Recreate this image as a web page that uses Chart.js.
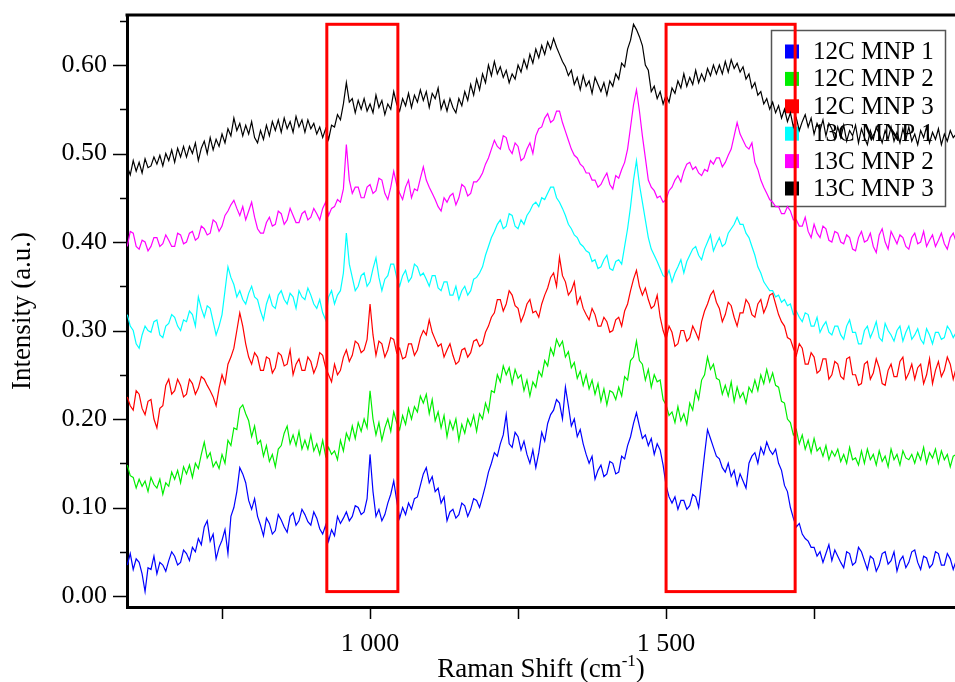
<!DOCTYPE html>
<html>
<head>
<meta charset="utf-8">
<script src="https://cdn.jsdelivr.net/npm/chart.js@4.4.0/dist/chart.umd.min.js"></script>
<style>
  html, body { margin: 0; padding: 0; background: #fff; }
  #wrap { width: 955px; height: 682px; position: relative; }
</style>
</head>
<body>
<div id="wrap"><canvas id="chart"></canvas></div>
<script>
// decalages Raman (cm-1), un point tous les 5 cm-1
const shifts = [
  590, 595, 600, 605, 610, 615, 620, 625, 630, 635, 640, 645, 650, 655, 660, 665, 670, 675, 680, 685,
  690, 695, 700, 705, 710, 715, 720, 725, 730, 735, 740, 745, 750, 755, 760, 765, 770, 775, 780, 785,
  790, 795, 800, 805, 810, 815, 820, 825, 830, 835, 840, 845, 850, 855, 860, 865, 870, 875, 880, 885,
  890, 895, 900, 905, 910, 915, 920, 925, 930, 935, 940, 945, 950, 955, 960, 965, 970, 975, 980, 985,
  990, 995, 1000, 1005, 1010, 1015, 1020, 1025, 1030, 1035, 1040, 1045, 1050, 1055, 1060, 1065, 1070, 1075, 1080, 1085,
  1090, 1095, 1100, 1105, 1110, 1115, 1120, 1125, 1130, 1135, 1140, 1145, 1150, 1155, 1160, 1165, 1170, 1175, 1180, 1185,
  1190, 1195, 1200, 1205, 1210, 1215, 1220, 1225, 1230, 1235, 1240, 1245, 1250, 1255, 1260, 1265, 1270, 1275, 1280, 1285,
  1290, 1295, 1300, 1305, 1310, 1315, 1320, 1325, 1330, 1335, 1340, 1345, 1350, 1355, 1360, 1365, 1370, 1375, 1380, 1385,
  1390, 1395, 1400, 1405, 1410, 1415, 1420, 1425, 1430, 1435, 1440, 1445, 1450, 1455, 1460, 1465, 1470, 1475, 1480, 1485,
  1490, 1495, 1500, 1505, 1510, 1515, 1520, 1525, 1530, 1535, 1540, 1545, 1550, 1555, 1560, 1565, 1570, 1575, 1580, 1585,
  1590, 1595, 1600, 1605, 1610, 1615, 1620, 1625, 1630, 1635, 1640, 1645, 1650, 1655, 1660, 1665, 1670, 1675, 1680, 1685,
  1690, 1695, 1700, 1705, 1710, 1715, 1720, 1725, 1730, 1735, 1740, 1745, 1750, 1755, 1760, 1765, 1770, 1775, 1780, 1785,
  1790, 1795, 1800, 1805, 1810, 1815, 1820, 1825, 1830, 1835, 1840, 1845, 1850, 1855, 1860, 1865, 1870, 1875, 1880, 1885,
  1890, 1895, 1900, 1905, 1910, 1915, 1920, 1925, 1930, 1935, 1940, 1945, 1950, 1955, 1960, 1965, 1970, 1975, 1980, 1985,
  1990
];

// intensites (spectres decales)
const mnp12c1 = [
  0.035, 0.048, 0.030, 0.042, 0.038, 0.025, 0.005, 0.032, 0.030, 0.045, 0.025, 0.038, 0.035, 0.028, 0.040, 0.050, 0.045, 0.035, 0.038, 0.052,
  0.048, 0.040, 0.055, 0.050, 0.065, 0.058, 0.078, 0.085, 0.062, 0.070, 0.042, 0.055, 0.063, 0.075, 0.048, 0.090, 0.100, 0.118, 0.145, 0.138,
  0.128, 0.108, 0.098, 0.110, 0.090, 0.080, 0.068, 0.088, 0.082, 0.070, 0.074, 0.092, 0.086, 0.078, 0.072, 0.090, 0.094, 0.080, 0.085, 0.098,
  0.092, 0.084, 0.080, 0.095, 0.088, 0.076, 0.070, 0.080, 0.062, 0.075, 0.068, 0.090, 0.082, 0.088, 0.095, 0.085, 0.090, 0.102, 0.100, 0.092,
  0.095, 0.110, 0.160, 0.118, 0.090, 0.098, 0.085, 0.092, 0.105, 0.115, 0.130, 0.108, 0.088, 0.100, 0.092, 0.105, 0.098, 0.110, 0.112, 0.125,
  0.138, 0.145, 0.128, 0.135, 0.118, 0.122, 0.105, 0.112, 0.085, 0.095, 0.098, 0.088, 0.092, 0.105, 0.102, 0.090, 0.098, 0.110, 0.108, 0.100,
  0.112, 0.125, 0.140, 0.150, 0.162, 0.158, 0.172, 0.182, 0.205, 0.172, 0.168, 0.185, 0.180, 0.165, 0.175, 0.160, 0.150, 0.165, 0.145, 0.162,
  0.185, 0.175, 0.195, 0.205, 0.210, 0.222, 0.218, 0.200, 0.236, 0.215, 0.192, 0.200, 0.180, 0.188, 0.172, 0.160, 0.150, 0.158, 0.132, 0.142,
  0.148, 0.135, 0.138, 0.152, 0.150, 0.138, 0.140, 0.158, 0.155, 0.170, 0.180, 0.195, 0.207, 0.192, 0.178, 0.182, 0.170, 0.178, 0.160, 0.172,
  0.165, 0.148, 0.125, 0.112, 0.105, 0.112, 0.098, 0.108, 0.108, 0.098, 0.102, 0.115, 0.112, 0.100, 0.130, 0.160, 0.188, 0.178, 0.168, 0.158,
  0.155, 0.145, 0.140, 0.150, 0.135, 0.142, 0.125, 0.138, 0.130, 0.122, 0.150, 0.158, 0.162, 0.150, 0.168, 0.160, 0.174, 0.165, 0.160, 0.166,
  0.150, 0.142, 0.125, 0.118, 0.100, 0.088, 0.078, 0.082, 0.070, 0.065, 0.062, 0.055, 0.055, 0.045, 0.050, 0.038, 0.048, 0.058, 0.040, 0.052,
  0.045, 0.038, 0.032, 0.050, 0.048, 0.035, 0.038, 0.055, 0.050, 0.040, 0.030, 0.045, 0.042, 0.028, 0.035, 0.048, 0.050, 0.036, 0.040, 0.050,
  0.028, 0.040, 0.045, 0.032, 0.038, 0.050, 0.052, 0.038, 0.030, 0.045, 0.043, 0.032, 0.036, 0.050, 0.048, 0.035, 0.035, 0.048, 0.042, 0.030,
  0.040
];
const mnp12c2 = [
  0.148, 0.136, 0.134, 0.122, 0.132, 0.124, 0.130, 0.118, 0.134, 0.126, 0.122, 0.132, 0.115, 0.128, 0.124, 0.140, 0.132, 0.142, 0.128, 0.146,
  0.138, 0.148, 0.134, 0.150, 0.144, 0.160, 0.174, 0.156, 0.162, 0.146, 0.152, 0.144, 0.160, 0.150, 0.176, 0.170, 0.190, 0.188, 0.212, 0.216,
  0.206, 0.198, 0.180, 0.192, 0.172, 0.176, 0.158, 0.170, 0.152, 0.160, 0.146, 0.166, 0.170, 0.184, 0.192, 0.172, 0.182, 0.170, 0.186, 0.166,
  0.176, 0.166, 0.182, 0.164, 0.172, 0.160, 0.176, 0.158, 0.168, 0.160, 0.164, 0.154, 0.176, 0.164, 0.184, 0.176, 0.192, 0.178, 0.196, 0.186,
  0.200, 0.190, 0.232, 0.200, 0.182, 0.196, 0.176, 0.190, 0.200, 0.186, 0.208, 0.196, 0.188, 0.204, 0.194, 0.212, 0.200, 0.214, 0.208, 0.226,
  0.218, 0.228, 0.206, 0.222, 0.198, 0.208, 0.190, 0.204, 0.180, 0.198, 0.188, 0.200, 0.176, 0.194, 0.184, 0.200, 0.192, 0.204, 0.186, 0.206,
  0.200, 0.218, 0.208, 0.232, 0.230, 0.250, 0.242, 0.260, 0.250, 0.258, 0.240, 0.256, 0.246, 0.250, 0.232, 0.244, 0.226, 0.242, 0.236, 0.254,
  0.248, 0.266, 0.260, 0.280, 0.272, 0.290, 0.282, 0.288, 0.270, 0.276, 0.258, 0.264, 0.246, 0.254, 0.238, 0.250, 0.234, 0.244, 0.228, 0.240,
  0.220, 0.234, 0.216, 0.232, 0.230, 0.222, 0.236, 0.226, 0.248, 0.244, 0.266, 0.270, 0.288, 0.266, 0.262, 0.244, 0.256, 0.236, 0.250, 0.242,
  0.244, 0.222, 0.216, 0.204, 0.208, 0.196, 0.214, 0.198, 0.206, 0.194, 0.218, 0.210, 0.232, 0.222, 0.244, 0.250, 0.270, 0.256, 0.262, 0.246,
  0.244, 0.228, 0.238, 0.226, 0.242, 0.220, 0.236, 0.224, 0.230, 0.218, 0.236, 0.230, 0.244, 0.232, 0.250, 0.240, 0.256, 0.242, 0.252, 0.238,
  0.236, 0.220, 0.218, 0.200, 0.196, 0.182, 0.188, 0.172, 0.182, 0.166, 0.176, 0.162, 0.178, 0.164, 0.168, 0.158, 0.170, 0.154, 0.164, 0.158,
  0.166, 0.152, 0.160, 0.150, 0.168, 0.154, 0.156, 0.148, 0.164, 0.150, 0.166, 0.154, 0.160, 0.148, 0.164, 0.152, 0.158, 0.146, 0.166, 0.154,
  0.160, 0.148, 0.164, 0.156, 0.154, 0.160, 0.150, 0.162, 0.154, 0.168, 0.150, 0.162, 0.156, 0.166, 0.150, 0.164, 0.154, 0.160, 0.146, 0.158,
  0.160
];
const mnp12c3 = [
  0.225, 0.215, 0.210, 0.232, 0.228, 0.212, 0.205, 0.220, 0.222, 0.200, 0.190, 0.212, 0.215, 0.238, 0.245, 0.228, 0.232, 0.245, 0.238, 0.225,
  0.228, 0.245, 0.240, 0.228, 0.235, 0.248, 0.245, 0.238, 0.232, 0.225, 0.215, 0.235, 0.250, 0.240, 0.262, 0.270, 0.280, 0.300, 0.320, 0.305,
  0.285, 0.270, 0.262, 0.275, 0.270, 0.255, 0.255, 0.270, 0.268, 0.252, 0.258, 0.275, 0.272, 0.260, 0.262, 0.278, 0.250, 0.262, 0.268, 0.255,
  0.255, 0.270, 0.265, 0.252, 0.260, 0.275, 0.272, 0.258, 0.250, 0.242, 0.262, 0.250, 0.255, 0.270, 0.278, 0.265, 0.272, 0.288, 0.285, 0.275,
  0.278, 0.290, 0.330, 0.295, 0.272, 0.288, 0.285, 0.270, 0.278, 0.292, 0.290, 0.275, 0.280, 0.268, 0.270, 0.285, 0.285, 0.272, 0.278, 0.292,
  0.300, 0.295, 0.312, 0.298, 0.290, 0.282, 0.285, 0.270, 0.278, 0.285, 0.272, 0.262, 0.265, 0.278, 0.280, 0.270, 0.275, 0.288, 0.290, 0.282,
  0.285, 0.298, 0.305, 0.315, 0.320, 0.335, 0.335, 0.322, 0.330, 0.345, 0.340, 0.328, 0.325, 0.310, 0.318, 0.330, 0.335, 0.320, 0.322, 0.315,
  0.330, 0.340, 0.348, 0.360, 0.365, 0.350, 0.383, 0.362, 0.355, 0.340, 0.345, 0.355, 0.330, 0.338, 0.325, 0.318, 0.312, 0.325, 0.318, 0.305,
  0.305, 0.315, 0.310, 0.298, 0.300, 0.312, 0.315, 0.305, 0.322, 0.330, 0.345, 0.358, 0.368, 0.350, 0.340, 0.348, 0.335, 0.325, 0.328, 0.340,
  0.315, 0.300, 0.290, 0.305, 0.298, 0.282, 0.285, 0.300, 0.300, 0.288, 0.292, 0.305, 0.298, 0.290, 0.310, 0.322, 0.330, 0.340, 0.345, 0.332,
  0.325, 0.310, 0.318, 0.332, 0.328, 0.315, 0.305, 0.320, 0.320, 0.335, 0.330, 0.318, 0.315, 0.330, 0.335, 0.320, 0.328, 0.340, 0.342, 0.330,
  0.318, 0.310, 0.305, 0.292, 0.290, 0.280, 0.272, 0.285, 0.280, 0.262, 0.262, 0.275, 0.270, 0.252, 0.255, 0.268, 0.268, 0.245, 0.250, 0.265,
  0.262, 0.248, 0.245, 0.268, 0.270, 0.250, 0.250, 0.238, 0.240, 0.262, 0.265, 0.245, 0.252, 0.268, 0.258, 0.240, 0.238, 0.255, 0.262, 0.248,
  0.248, 0.265, 0.270, 0.245, 0.252, 0.262, 0.245, 0.258, 0.262, 0.240, 0.250, 0.268, 0.240, 0.255, 0.265, 0.248, 0.255, 0.270, 0.262, 0.245,
  0.258
];
const mnp13c1 = [
  0.318, 0.305, 0.300, 0.285, 0.280, 0.295, 0.305, 0.300, 0.298, 0.310, 0.312, 0.295, 0.292, 0.305, 0.308, 0.318, 0.315, 0.305, 0.300, 0.312,
  0.310, 0.322, 0.318, 0.305, 0.338, 0.325, 0.315, 0.328, 0.325, 0.310, 0.295, 0.305, 0.318, 0.345, 0.372, 0.360, 0.352, 0.338, 0.345, 0.335,
  0.330, 0.342, 0.350, 0.338, 0.335, 0.322, 0.312, 0.330, 0.340, 0.328, 0.325, 0.340, 0.345, 0.335, 0.330, 0.342, 0.338, 0.325, 0.345, 0.338,
  0.335, 0.348, 0.340, 0.330, 0.325, 0.335, 0.320, 0.312, 0.338, 0.345, 0.330, 0.340, 0.345, 0.365, 0.410, 0.375, 0.360, 0.345, 0.350, 0.362,
  0.365, 0.350, 0.355, 0.370, 0.382, 0.360, 0.345, 0.358, 0.362, 0.375, 0.375, 0.360, 0.350, 0.362, 0.368, 0.355, 0.360, 0.375, 0.372, 0.362,
  0.365, 0.358, 0.350, 0.362, 0.362, 0.348, 0.345, 0.355, 0.355, 0.340, 0.340, 0.350, 0.335, 0.345, 0.350, 0.340, 0.345, 0.358, 0.360, 0.365,
  0.372, 0.385, 0.395, 0.405, 0.412, 0.420, 0.425, 0.415, 0.418, 0.432, 0.430, 0.418, 0.415, 0.425, 0.420, 0.430, 0.435, 0.442, 0.445, 0.440,
  0.450, 0.448, 0.455, 0.462, 0.462, 0.450, 0.445, 0.438, 0.430, 0.420, 0.415, 0.408, 0.405, 0.398, 0.395, 0.390, 0.388, 0.378, 0.380, 0.370,
  0.372, 0.380, 0.385, 0.370, 0.368, 0.378, 0.380, 0.375, 0.395, 0.415, 0.440, 0.470, 0.492, 0.465, 0.445, 0.425, 0.405, 0.392, 0.385, 0.378,
  0.370, 0.362, 0.360, 0.368, 0.355, 0.365, 0.372, 0.380, 0.365, 0.378, 0.385, 0.392, 0.395, 0.385, 0.380, 0.392, 0.400, 0.408, 0.390, 0.398,
  0.405, 0.395, 0.398, 0.410, 0.415, 0.420, 0.428, 0.420, 0.420, 0.410, 0.405, 0.395, 0.385, 0.372, 0.365, 0.355, 0.350, 0.345, 0.345, 0.338,
  0.340, 0.332, 0.335, 0.328, 0.330, 0.318, 0.322, 0.315, 0.310, 0.320, 0.318, 0.305, 0.305, 0.315, 0.298, 0.305, 0.310, 0.298, 0.295, 0.305,
  0.305, 0.295, 0.290, 0.305, 0.312, 0.298, 0.298, 0.285, 0.285, 0.300, 0.305, 0.292, 0.300, 0.310, 0.292, 0.288, 0.308, 0.300, 0.295, 0.288,
  0.300, 0.305, 0.288, 0.298, 0.305, 0.290, 0.295, 0.302, 0.290, 0.285, 0.302, 0.295, 0.285, 0.298, 0.298, 0.290, 0.292, 0.305, 0.300, 0.292,
  0.298
];
const mnp13c2 = [
  0.395, 0.412, 0.410, 0.395, 0.392, 0.402, 0.400, 0.390, 0.395, 0.405, 0.405, 0.395, 0.398, 0.408, 0.402, 0.395, 0.395, 0.410, 0.408, 0.398,
  0.400, 0.410, 0.412, 0.402, 0.405, 0.418, 0.415, 0.408, 0.410, 0.425, 0.422, 0.412, 0.418, 0.430, 0.435, 0.442, 0.447, 0.438, 0.430, 0.440,
  0.425, 0.435, 0.445, 0.428, 0.415, 0.410, 0.410, 0.422, 0.428, 0.418, 0.420, 0.435, 0.432, 0.420, 0.425, 0.438, 0.430, 0.422, 0.422, 0.432,
  0.435, 0.425, 0.428, 0.438, 0.432, 0.425, 0.438, 0.445, 0.430, 0.438, 0.440, 0.448, 0.445, 0.460, 0.510, 0.470, 0.455, 0.462, 0.462, 0.450,
  0.450, 0.462, 0.465, 0.455, 0.458, 0.472, 0.470, 0.455, 0.448, 0.462, 0.480, 0.465, 0.455, 0.448, 0.462, 0.470, 0.450, 0.460, 0.458, 0.472,
  0.485, 0.470, 0.462, 0.455, 0.448, 0.440, 0.435, 0.450, 0.445, 0.452, 0.455, 0.442, 0.450, 0.465, 0.462, 0.452, 0.455, 0.468, 0.468, 0.472,
  0.478, 0.488, 0.495, 0.505, 0.515, 0.508, 0.505, 0.520, 0.518, 0.505, 0.500, 0.512, 0.508, 0.492, 0.495, 0.505, 0.512, 0.500, 0.520, 0.528,
  0.530, 0.540, 0.545, 0.535, 0.538, 0.548, 0.548, 0.535, 0.525, 0.515, 0.505, 0.498, 0.495, 0.488, 0.485, 0.478, 0.478, 0.470, 0.470, 0.462,
  0.465, 0.472, 0.478, 0.465, 0.460, 0.475, 0.472, 0.482, 0.490, 0.505, 0.530, 0.555, 0.572, 0.548, 0.520, 0.495, 0.470, 0.462, 0.458, 0.450,
  0.452, 0.445, 0.448, 0.458, 0.462, 0.470, 0.475, 0.468, 0.480, 0.488, 0.490, 0.482, 0.485, 0.478, 0.475, 0.482, 0.480, 0.492, 0.488, 0.495,
  0.495, 0.485, 0.490, 0.498, 0.505, 0.520, 0.535, 0.522, 0.515, 0.508, 0.505, 0.512, 0.490, 0.482, 0.470, 0.462, 0.455, 0.448, 0.445, 0.440,
  0.440, 0.432, 0.432, 0.440, 0.435, 0.425, 0.425, 0.418, 0.418, 0.428, 0.412, 0.405, 0.420, 0.410, 0.405, 0.418, 0.415, 0.402, 0.400, 0.412,
  0.410, 0.400, 0.398, 0.408, 0.405, 0.392, 0.390, 0.405, 0.412, 0.400, 0.402, 0.410, 0.395, 0.388, 0.408, 0.415, 0.400, 0.392, 0.412, 0.405,
  0.398, 0.408, 0.405, 0.395, 0.392, 0.405, 0.410, 0.398, 0.400, 0.412, 0.395, 0.402, 0.408, 0.395, 0.402, 0.410, 0.398, 0.392, 0.405, 0.410,
  0.400
];
const mnp13c3 = [
  0.485, 0.476, 0.492, 0.480, 0.490, 0.478, 0.494, 0.484, 0.486, 0.496, 0.488, 0.498, 0.486, 0.500, 0.492, 0.504, 0.490, 0.506, 0.496, 0.508,
  0.496, 0.508, 0.500, 0.512, 0.492, 0.506, 0.514, 0.500, 0.518, 0.504, 0.516, 0.508, 0.522, 0.512, 0.528, 0.520, 0.540, 0.526, 0.534, 0.520,
  0.532, 0.522, 0.536, 0.518, 0.512, 0.526, 0.516, 0.532, 0.520, 0.536, 0.526, 0.538, 0.524, 0.540, 0.528, 0.536, 0.524, 0.542, 0.530, 0.538,
  0.524, 0.538, 0.528, 0.534, 0.522, 0.530, 0.518, 0.528, 0.516, 0.532, 0.530, 0.544, 0.538, 0.556, 0.580, 0.558, 0.562, 0.546, 0.560, 0.550,
  0.562, 0.548, 0.556, 0.546, 0.566, 0.552, 0.560, 0.544, 0.556, 0.550, 0.570, 0.556, 0.548, 0.562, 0.554, 0.568, 0.552, 0.566, 0.558, 0.572,
  0.560, 0.570, 0.552, 0.568, 0.562, 0.574, 0.550, 0.560, 0.548, 0.562, 0.552, 0.546, 0.562, 0.554, 0.570, 0.560, 0.578, 0.566, 0.584, 0.572,
  0.590, 0.580, 0.600, 0.588, 0.604, 0.590, 0.598, 0.586, 0.594, 0.580, 0.590, 0.584, 0.600, 0.592, 0.606, 0.596, 0.612, 0.602, 0.618, 0.608,
  0.622, 0.612, 0.626, 0.618, 0.630, 0.620, 0.612, 0.604, 0.598, 0.588, 0.594, 0.578, 0.586, 0.572, 0.588, 0.576, 0.582, 0.568, 0.586, 0.578,
  0.570, 0.580, 0.566, 0.582, 0.576, 0.590, 0.584, 0.602, 0.598, 0.618, 0.628, 0.646, 0.640, 0.632, 0.622, 0.600, 0.594, 0.570, 0.576, 0.562,
  0.570, 0.556, 0.566, 0.558, 0.574, 0.568, 0.582, 0.574, 0.590, 0.576, 0.586, 0.578, 0.594, 0.580, 0.590, 0.582, 0.596, 0.588, 0.600, 0.590,
  0.600, 0.590, 0.604, 0.592, 0.606, 0.596, 0.602, 0.592, 0.598, 0.584, 0.590, 0.574, 0.580, 0.566, 0.570, 0.556, 0.562, 0.550, 0.558, 0.546,
  0.554, 0.540, 0.550, 0.536, 0.546, 0.530, 0.540, 0.526, 0.536, 0.544, 0.530, 0.540, 0.522, 0.534, 0.526, 0.538, 0.520, 0.534, 0.528, 0.516,
  0.530, 0.518, 0.532, 0.514, 0.526, 0.520, 0.532, 0.512, 0.528, 0.518, 0.510, 0.526, 0.516, 0.530, 0.522, 0.512, 0.526, 0.516, 0.530, 0.514,
  0.524, 0.512, 0.528, 0.516, 0.530, 0.514, 0.522, 0.510, 0.526, 0.518, 0.530, 0.512, 0.524, 0.516, 0.528, 0.510, 0.522, 0.514, 0.526, 0.518,
  0.522
];

const seriesNames = ['12C MNP 1', '12C MNP 2', '12C MNP 3', '13C MNP 1', '13C MNP 2', '13C MNP 3'];
const seriesValues = [mnp12c1, mnp12c2, mnp12c3, mnp13c1, mnp13c2, mnp13c3];
const seriesColors = ['#0000ff', '#00ee00', '#ff0000', '#00ffff', '#ff00ff', '#000000'];

// graduations
const xTickMarks = [750, 1000, 1250, 1500, 1750];
const xTickLabels = [1000, 1500];
const yTickLabels = [0, 0.1, 0.2, 0.3, 0.4, 0.5, 0.6];
const yMinorTicks = [0.05, 0.15, 0.25, 0.35, 0.45, 0.55, 0.65];

// zones encadrees en rouge (cm-1) et leur hauteur
const boxRanges = [[927, 1047], [1500, 1718]];
const boxSpan = [0.005, 0.646];

const serif = "'Liberation Serif', 'Times New Roman', serif";

// dessin des cadres, graduations, titres et legende
const decor = {
  id: 'decor',
  beforeDatasetsDraw(chart) {
    const ctx = chart.ctx;
    ctx.save();
    ctx.strokeStyle = '#555';
    ctx.lineWidth = 1.5;
    ctx.strokeRect(771.5, 30.5, 174, 176);
    ctx.font = '25px ' + serif;
    ctx.textBaseline = 'middle';
    chart.data.datasets.forEach((ds, i) => {
      const y = 51.5 + i * 27.4;
      ctx.fillStyle = ds.borderColor;
      ctx.fillRect(785, y - 7, 14, 14);
      ctx.fillStyle = '#000';
      ctx.fillText(ds.label, 813, y + 1);
    });
    ctx.restore();
  },
  afterDatasetsDraw(chart) {
    const ctx = chart.ctx;
    const xs = chart.scales.x, ys = chart.scales.y;
    const area = chart.chartArea;
    ctx.save();
    // rectangles rouges
    ctx.strokeStyle = '#ff0000';
    ctx.lineWidth = 3;
    boxRanges.forEach(r => {
      const x1 = xs.getPixelForValue(r[0]), x2 = xs.getPixelForValue(r[1]);
      const y1 = ys.getPixelForValue(boxSpan[1]), y2 = ys.getPixelForValue(boxSpan[0]);
      ctx.strokeRect(x1, y1, x2 - x1, y2 - y1);
    });
    // bord du haut
    ctx.strokeStyle = '#000';
    ctx.lineWidth = 3;
    ctx.beginPath();
    ctx.moveTo(area.left - 1.5, area.top);
    ctx.lineTo(area.right, area.top);
    ctx.stroke();
    // graduations
    ctx.lineWidth = 1.5;
    ctx.beginPath();
    yTickLabels.forEach(v => {
      const y = Math.round(ys.getPixelForValue(v)) + 0.5;
      ctx.moveTo(area.left - 14, y); ctx.lineTo(area.left, y);
    });
    yMinorTicks.forEach(v => {
      const y = Math.round(ys.getPixelForValue(v)) + 0.5;
      ctx.moveTo(area.left - 7, y); ctx.lineTo(area.left, y);
    });
    xTickMarks.forEach(v => {
      const x = Math.round(xs.getPixelForValue(v)) + 0.5;
      ctx.moveTo(x, area.bottom); ctx.lineTo(x, area.bottom + 12);
    });
    ctx.stroke();
    // titres des axes
    ctx.fillStyle = '#000';
    ctx.font = '27px ' + serif;
    ctx.textAlign = 'center';
    ctx.textBaseline = 'middle';
    ctx.save();
    ctx.translate(23, (area.top + area.bottom) / 2);
    ctx.rotate(-Math.PI / 2);
    ctx.fillText('Intensity (a.u.)', 0, 0);
    ctx.restore();
    const part1 = 'Raman Shift (cm', sup = '-1', part2 = ')';
    ctx.textAlign = 'left';
    ctx.textBaseline = 'alphabetic';
    ctx.font = '27px ' + serif;
    const w1 = ctx.measureText(part1).width, w3 = ctx.measureText(part2).width;
    ctx.font = '17px ' + serif;
    const w2 = ctx.measureText(sup).width;
    const x0 = (area.left + area.right) / 2 - (w1 + w2 + w3) / 2;
    const base = 677;
    ctx.font = '27px ' + serif;
    ctx.fillText(part1, x0, base);
    ctx.font = '17px ' + serif;
    ctx.fillText(sup, x0 + w1, base - 11);
    ctx.font = '27px ' + serif;
    ctx.fillText(part2, x0 + w1 + w2, base);
    ctx.restore();
  }
};

new Chart(document.getElementById('chart'), {
  type: 'line',
  data: {
    datasets: seriesNames.map((name, i) => ({
      label: name,
      data: shifts.map((x, j) => ({ x: x, y: seriesValues[i][j] })),
      borderColor: seriesColors[i],
      backgroundColor: seriesColors[i],
      borderWidth: 1.2,
      pointRadius: 0,
      tension: 0,
      fill: false
    }))
  },
  options: {
    responsive: true,
    maintainAspectRatio: false,
    animation: false,
    devicePixelRatio: 1,
    layout: { padding: { top: 15, left: 0, right: 0, bottom: 0 } },
    plugins: {
      legend: { display: false },
      tooltip: { enabled: false }
    },
    scales: {
      x: {
        type: 'linear',
        min: 589.5,
        max: 1988,
        afterFit: s => { s.height = 75; s.paddingLeft = 0; s.paddingRight = 0; },
        afterBuildTicks: s => { s.ticks = xTickLabels.map(v => ({ value: v })); },
        grid: { display: false, drawTicks: false },
        border: { display: true, color: '#000', width: 3 },
        ticks: {
          padding: 22,
          color: '#000',
          maxRotation: 0,
          autoSkip: false,
          font: { family: serif, size: 26 },
          callback: v => String(v).replace(/\B(?=(\d{3})+(?!\d))/g, ' ')
        }
      },
      y: {
        min: -0.0124,
        max: 0.6565,
        afterFit: s => { s.width = 127; s.paddingTop = 0; s.paddingBottom = 0; },
        afterBuildTicks: s => { s.ticks = yTickLabels.map(v => ({ value: v })); },
        grid: { display: false, drawTicks: false },
        border: { display: true, color: '#000', width: 3 },
        ticks: {
          padding: 20,
          color: '#000',
          font: { family: serif, size: 26 },
          callback: v => v.toFixed(2)
        }
      }
    }
  },
  plugins: [decor]
});
</script>
</body>
</html>
